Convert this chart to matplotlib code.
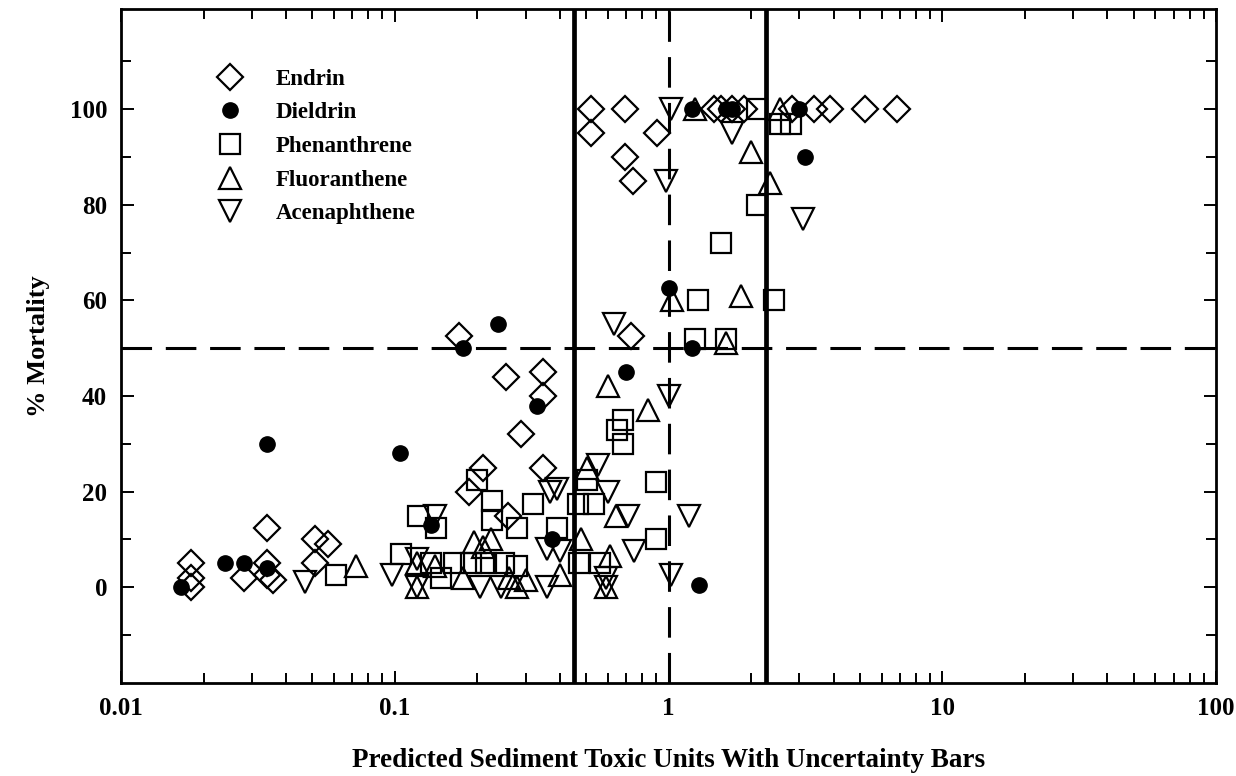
import matplotlib
matplotlib.use('Agg')
import matplotlib.pyplot as plt
from matplotlib.ticker import FixedLocator, NullFormatter

# --- toxic units vs. % mortality for each chemical ---
endrin_x = [0.018, 0.018, 0.018, 0.028, 0.034, 0.034, 0.034, 0.036, 0.051, 0.057, 0.051,
            0.172, 0.186, 0.209, 0.255, 0.258, 0.288, 0.347, 0.347, 0.347, 0.73,
            0.52, 0.52, 0.69, 0.69, 0.74, 0.91, 1.46, 1.55, 1.7, 1.88, 2.83, 3.4, 3.9, 5.2, 6.8]
endrin_y = [5, 2, 0, 2, 12.5, 5, 2.5, 1.5, 10, 9, 5,
            52.5, 20, 25, 44, 15, 32, 45, 40, 25, 52.5,
            100, 95, 100, 90, 85, 95, 100, 100, 100, 100, 100, 100, 100, 100, 100]

dieldrin_x = [0.0165, 0.024, 0.028, 0.034, 0.034, 0.104, 0.135, 0.177, 0.238, 0.331, 0.376,
              0.70, 1.0, 1.22, 1.29, 1.22, 1.62, 1.7, 3.0, 3.15]
dieldrin_y = [0, 5, 5, 30, 4, 28, 13, 50, 55, 38, 10,
              45, 62.5, 50, 0.5, 100, 100, 100, 100, 90]

phen_x = [0.061, 0.105, 0.121, 0.141, 0.147, 0.135, 0.165, 0.19, 0.2, 0.215, 0.227, 0.227,
          0.25, 0.28, 0.28, 0.32, 0.39, 0.465, 0.533, 0.505, 0.47, 0.56, 0.9, 0.9,
          0.68, 0.65, 0.68, 1.25, 1.28, 1.62, 1.55, 2.1, 2.43, 2.1, 2.55, 2.8]
phen_y = [2.5, 7, 15, 12.5, 2, 5, 5, 5, 22.5, 5, 18, 14,
          5, 12.5, 4.5, 17.5, 12.5, 17.5, 17.5, 22.5, 5, 5, 22, 10,
          35, 33, 30, 52, 60, 52, 72, 80, 60, 100, 97, 97]

fluor_x = [0.072, 0.12, 0.12, 0.14, 0.178, 0.195, 0.21, 0.225, 0.26, 0.3, 0.4, 0.28,
           0.48, 0.505, 0.6, 0.59, 0.61, 0.64, 0.84, 1.03, 1.62, 1.83,
           1.25, 2.0, 2.35, 2.56]
fluor_y = [4.5, 0, 5, 4.5, 2, 9.5, 8.5, 10, 2, 1.5, 2.5, 0,
           10, 25, 42, 0, 6.5, 15, 37, 60, 51, 61,
           100, 91, 84.5, 100]

acen_x = [0.047, 0.098, 0.12, 0.12, 0.14, 0.205, 0.245, 0.36, 0.36, 0.4, 0.37, 0.39,
          0.55, 0.6, 0.59, 0.59, 0.71, 0.75, 1.02, 1.19, 1.0, 0.63,
          0.975, 1.02, 1.7, 3.1]
acen_y = [1, 2.5, 6, 0, 15, 0, 0, 0, 8, 7.5, 20, 20.5,
          25.5, 20, 2, 0, 15, 7.5, 2.5, 15, 40, 55,
          85, 100, 95, 77]

# reference lines: 50 % mortality, 1 toxic unit and the uncertainty bounds
mortality_50 = 50
tu_one = 1.0
tu_bounds = [0.45, 2.26]

plt.rcParams['font.family'] = ['Liberation Serif', 'DejaVu Serif']
plt.rcParams['font.weight'] = 'bold'
plt.rcParams['axes.labelweight'] = 'bold'

fig = plt.figure(figsize=(12.36, 7.76), dpi=100)
ax = fig.add_axes([0.098, 0.12, 0.886, 0.8686])
ax.set_xscale('log')

mew = 1.6
ax.plot(endrin_x, endrin_y, 'D', ms=13.5, mfc='none', mec='black', mew=mew, label='Endrin', zorder=3)
ax.plot(dieldrin_x, dieldrin_y, 'o', ms=11, mfc='black', mec='black', mew=1, label='Dieldrin', zorder=3)
ax.plot(phen_x, phen_y, 's', ms=14, mfc='none', mec='black', mew=mew, label='Phenanthrene', zorder=3)
ax.plot(fluor_x, fluor_y, '^', ms=16.5, mfc='none', mec='black', mew=mew, label='Fluoranthene', zorder=3)
ax.plot(acen_x, acen_y, 'v', ms=16.5, mfc='none', mec='black', mew=mew, label='Acenaphthene', zorder=3)

# dashed guide lines
ax.axhline(mortality_50, color='black', lw=2.2, linestyle=(0, (10, 4.5)), zorder=1)
ax.axvline(tu_one, color='black', lw=2.2, linestyle=(0, (10, 5)), zorder=1)
for b in tu_bounds:
    ax.axvline(b, color='black', lw=3.4, zorder=2)

ax.set_xlim(0.01, 100)
ax.set_ylim(-20, 121)
ax.set_xticks([0.01, 0.1, 1, 10, 100])
ax.set_xticklabels(['0.01', '0.1', '1', '10', '100'])
ax.set_yticks([0, 20, 40, 60, 80, 100])
ax.yaxis.set_minor_locator(FixedLocator([-10, 10, 30, 50, 70, 90, 110]))
ax.xaxis.set_minor_formatter(NullFormatter())

ax.tick_params(which='both', direction='in', top=True, right=True, labelsize=18, width=1.4)
ax.tick_params(which='major', length=9, pad=10)
ax.tick_params(which='minor', length=7)
for sp in ax.spines.values():
    sp.set_linewidth(2)

ax.set_xlabel('Predicted Sediment Toxic Units With Uncertainty Bars', fontsize=19.5,
              fontweight='bold', labelpad=20)
ax.set_ylabel('% Mortality', fontsize=19, fontweight='bold', labelpad=14)

leg = ax.legend(loc='upper left', bbox_to_anchor=(0.07, 0.925), frameon=False, fontsize=16.5,
                handletextpad=1.0, labelspacing=0.55, borderaxespad=0)

fig.savefig('out.png', dpi=100)
